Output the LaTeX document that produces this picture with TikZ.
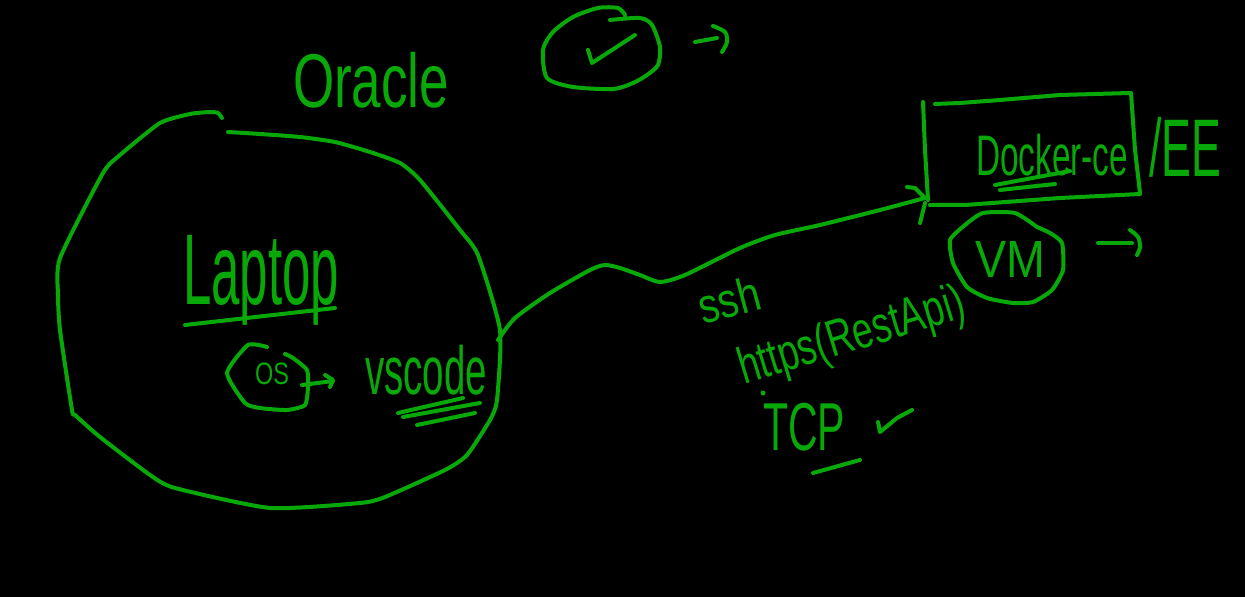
\documentclass[tikz,border=0pt]{standalone}
\usepackage{fontspec}
\setmainfont{Liberation Sans}
\usepackage{graphicx}
\definecolor{pen}{RGB}{8,168,8}
\tikzset{
  ink/.style={draw=pen, line width=2pt, line cap=round, line join=round},
  lbl/.style={text=pen, inner sep=0pt, anchor=center}
}
\newcommand{\hw}[3]{\resizebox*{#1}{#2}{#3}}
\begin{document}
\begin{tikzpicture}[x=0.5pt,y=-0.5pt]
\fill[black] (0,0) rectangle (1245,597);
\useasboundingbox (0,0) rectangle (1245,597);

% ---- Oracle title
\node[lbl] (oracle) at (371,80) {\hw{78pt}{28pt}{Oracle}};

% ---- check circle and arrow
\draw[ink] plot[smooth, tension=0.45] coordinates {(625,15) (618,8) (598,8) (573,17) (553,32) (543,50) (547,78) (573,87) (613,89) (633,83) (647,75) (658,65) (660,47) (652,25) (640,18) (610,20)};
\draw[ink] (588,50) -- (592,63) -- (635,35);
\coordinate (checkA) at (695,42);
\coordinate (checkB) at (717,38);
\draw[ink] (checkA) -- (checkB);
\draw[ink] plot[smooth, tension=0.5] coordinates {(713,26) (725,32) (727,42) (722,52)};

% ---- Laptop circle
\draw[ink] plot[smooth, tension=0.35] coordinates {(222,118) (218,113) (210,112) (190,114) (160,123) (120,155) (103,173) (60,258) (58,295) (60,330) (72,410) (75,415) (100,437) (150,475) (175,488) (270,508) (360,503) (385,497) (445,470) (467,455) (490,420) (497,400) (500,330) (478,255) (460,230) (420,180) (400,163) (370,152) (335,142) (300,137) (260,134) (228,132)};
\coordinate (laptopEdge) at (498,340);

\node[lbl] (laptop) at (261,280) {\hw{78pt}{45pt}{Laptop}};
\draw[ink] (185,325) -- (335,308);

% ---- OS hexagon
\draw[ink] plot[smooth, tension=0.35] coordinates {(267,347) (248,345) (227,373) (245,403) (260,408) (287,410) (305,405) (308,387) (307,370) (293,358) (285,354)};
\node[lbl] (os) at (272,374) {\hw{17pt}{11pt}{OS}};
\coordinate (osOut) at (302,385);
\coordinate (vsIn) at (333,381);
\draw[ink] (osOut) -- (vsIn);
\draw[ink] (325,375) -- (333,380) -- (330,387);

% ---- vscode
\node[lbl] (vscode) at (426,370) {\hw{61pt}{25pt}{vscode}};
\draw[ink] (398,413) -- (463,398);
\draw[ink] (403,417) -- (480,403);
\draw[ink] (417,425) -- (475,413);

% ---- connector laptop -> docker box
\coordinate (dockerIn) at (925,198);
\draw[ink] plot[smooth, tension=0.4] coordinates {(laptopEdge) (515,318) (550,293) (590,270) (605,265) (620,268) (640,275) (660,282) (685,275) (740,248) (775,235) (820,225) (880,210) (dockerIn)};
\draw[ink] (907,187) -- (915,188) -- (dockerIn);
\draw[ink] (925,203) -- (920,223);

% ---- Docker box
\draw[ink] (923,102) -- (925,150) -- (928,200);
\draw[ink] (935,104) -- (960,103) -- (1000,100) -- (1060,95) -- (1130,93);
\draw[ink] (1131,93) -- (1135,150) -- (1140,193);
\draw[ink] (930,205) -- (965,205) -- (1060,198) -- (1140,194);
\node[lbl] (docker) at (1052,155) {\hw{76pt}{21pt}{Docker-ce}};
\draw[ink] (995,185) -- (1070,171);
\draw[ink] (1000,190) -- (1055,184);
\node[lbl] (ee) at (1185,147) {\hw{36pt}{30pt}{/EE}};

% ---- VM hexagon
\draw[ink] plot[smooth, tension=0.35] coordinates {(1037,227) (1015,213) (983,213) (965,225) (950,240) (953,263) (967,287) (987,298) (1013,303) (1033,302) (1052,290) (1063,270) (1062,243) (1050,233) (1037,227)};
\node[lbl] (vm) at (1010,260) {\hw{35pt}{18pt}{VM}};
\coordinate (vmA) at (1098,243);
\coordinate (vmB) at (1132,243);
\draw[ink] (vmA) -- (vmB);
\draw[ink] plot[smooth, tension=0.5] coordinates {(1130,230) (1138,237) (1140,247) (1137,255)};

% ---- protocol labels
\node[lbl, rotate=15] (ssh) at (729,300) {\hw{31pt}{18pt}{ssh}};
\node[lbl, rotate=17] (https) at (852,338) {\hw{117pt}{24pt}{https(RestApi)}};
\fill[pen] (763,393) circle (2.5);
\node[lbl] (tcp) at (804,427) {\hw{41pt}{24pt}{TCP}};
\draw[ink] (813,473) -- (860,460);
\draw[ink] (878,422) -- (880,432) -- (897,418) -- (912,410);
\end{tikzpicture}
\end{document}
